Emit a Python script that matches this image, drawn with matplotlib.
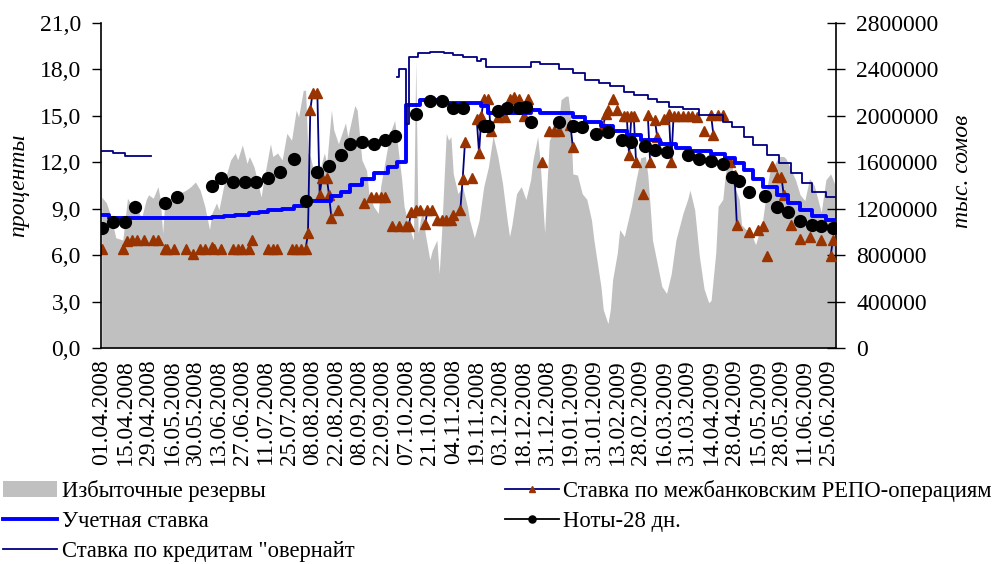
import numpy as np
import matplotlib.pyplot as plt

plt.rcParams['font.family'] = ['Liberation Serif', 'DejaVu Serif']

nan = np.nan
n_days = 314  # business days 01.04.2008 - 30.06.2009

tick_labels = ["01.04.2008", "15.04.2008", "29.04.2008", "16.05.2008", "30.05.2008",
               "13.06.2008", "27.06.2008", "11.07.2008", "25.07.2008", "08.08.2008",
               "22.08.2008", "08.09.2008", "22.09.2008", "07.10.2008", "21.10.2008",
               "04.11.2008", "19.11.2008", "03.12.2008", "18.12.2008", "31.12.2008",
               "19.01.2009", "31.01.2009", "13.02.2009", "28.02.2009", "16.03.2009",
               "31.03.2009", "14.04.2009", "28.04.2009", "15.05.2009", "28.05.2009",
               "11.06.2009", "25.06.2009"]

# excess reserves, thousand som (right axis)
reserve_day = [0, 2, 4, 6, 9, 11, 13, 14, 16, 17, 19, 20, 22, 24, 25, 26, 27, 30, 32, 34,
               36, 38, 40, 42, 44, 46, 47, 49, 50, 52, 53, 55, 57, 58, 60, 62, 63, 65, 67, 68,
               69, 72, 73, 75, 77, 79, 81, 83, 84, 86, 87, 88, 89, 91, 93, 95, 96, 98, 99, 101,
               104, 105, 108, 109, 111, 113, 114, 116, 118, 119, 121, 123, 125, 126, 128, 129, 131, 133, 134, 135,
               137, 138, 140, 141, 143, 144, 145, 147, 148, 149, 150, 152, 154, 156, 157, 159, 161, 163, 165, 167,
               169, 171, 173, 174, 175, 177, 179, 181, 183, 184, 186, 187, 189, 190, 191, 194, 195, 196, 198, 199,
               200, 201, 203, 205, 207, 209, 210, 213, 214, 216, 217, 218, 220, 221, 223, 224, 226, 228, 230, 232,
               233, 234, 235, 237, 239, 241, 243, 245, 248, 250, 251, 253, 255, 257, 259, 260, 262, 263, 265, 266,
               267, 269, 270, 272, 273, 275, 277, 279, 282, 284, 286, 287, 289, 291, 292, 296, 298, 300, 302, 304,
               307, 309, 311, 313]
reserve_val = [1300000, 1250000, 1130000, 950000, 930000, 1290000, 1220000, 1280000, 1160000, 1120000,
               1280000, 1320000, 1290000, 1390000, 1280000, 990000, 1280000, 1260000, 1290000, 1340000,
               1360000, 1390000, 1430000, 1360000, 1220000, 1020000, 1160000, 1250000, 1190000, 1390000,
               1480000, 1620000, 1680000, 1620000, 1750000, 1590000, 1650000, 1560000, 1390000, 1300000,
               1430000, 1760000, 1650000, 1680000, 1620000, 1850000, 1790000, 2050000, 1990000, 2220000,
               2220000, 1680000, 1650000, 1480000, 1530000, 1680000, 1590000, 2050000, 1880000, 1760000,
               1940000, 1820000, 2090000, 2050000, 1620000, 1530000, 1330000, 1220000, 1160000, 1390000,
               1620000, 1850000, 1960000, 1790000, 1450000, 1220000, 1050000, 930000, 2480000, 990000,
               1220000, 990000, 760000, 840000, 930000, 640000, 990000, 1850000, 1790000, 1820000,
               1500000, 1330000, 1390000, 1220000, 1100000, 950000, 1100000, 1390000, 1560000, 1830000,
               1650000, 1420000, 1100000, 960000, 1060000, 1330000, 1390000, 1280000, 1450000, 1620000,
               1820000, 1620000, 990000, 1420000, 1790000, 1910000, 1940000, 2140000, 2170000, 2170000,
               2010000, 1500000, 1490000, 1330000, 1280000, 1100000, 930000, 530000, 330000, 210000,
               330000, 590000, 820000, 1020000, 960000, 1050000, 1220000, 1450000, 1640000, 1650000,
               1490000, 1220000, 930000, 730000, 530000, 470000, 640000, 930000, 1160000, 1280000,
               1360000, 1190000, 790000, 510000, 390000, 410000, 820000, 1220000, 1280000, 1480000,
               1620000, 1560000, 1390000, 1280000, 1060000, 1020000, 990000, 890000, 1100000, 1400000,
               1620000, 1580000, 1650000, 1650000, 1630000, 1450000, 1320000, 1270000, 1460000, 1400000,
               1170000, 1450000, 1500000, 1400000]

# interbank REPO rate, % (blank days are gaps)
repo_day = [0, 9, 11, 13, 15, 18, 22, 24, 27, 28, 31, 36, 39, 42, 44, 47, 48, 51, 56, 58,
            60, 63, 64, 71, 73, 75, 81, 83, 85, 87, 88, 89, 90, 92, 93, 94, 96, 97, 98, 101,
            112, 115, 117, 119, 121, 124, 127, 130, 131, 132, 134, 136, 138, 139, 141, 143, 145, 147, 149, 150,
            153, 154, 155, 158, 160, 161, 162, 163, 165, 166, 169, 172, 174, 176, 178, 180, 182, 188, 191, 193,
            195, 200, 201, 214, 215, 216, 218, 220, 223, 224, 225, 226, 227, 228, 231, 233, 234, 236, 237, 240,
            242, 243, 244, 246, 248, 250, 252, 254, 257, 260, 261, 263, 265, 268, 270, 271, 276, 280, 282, 284,
            286, 288, 290, 291, 294, 298, 302, 307, 311, 312]
repo_val = [6.4, 6.4, 6.9, 7.0, 7.0, 7.0, 7.0, 7.0, 6.4, 6.4, 6.4, 6.4, 6.1, 6.4, 6.4, 6.55, 6.4, 6.4, 6.4, 6.4,
            6.4, 6.4, 7.0, 6.4, 6.4, 6.4, 6.4, 6.4, 6.4, 6.4, 7.4, 15.4, 16.5, 16.5, 9.9, 11.0, 11.0, 9.9, 8.4, 8.9,
            9.4, 9.75, 9.75, 9.75, 9.75, 7.9, 7.9, 7.9, 7.9, 8.8, 8.9, 8.9, 8.0, 8.9, 8.9, 8.3, 8.3, 8.3, 8.3, 8.6,
            8.9, 10.9, 13.3, 11.0, 14.8, 12.6, 15.0, 16.1, 16.1, 14.0, 14.95, 14.95, 16.1, 16.2, 16.1, 15.0, 16.1, 12.0, 14.05, 14.05,
            14.05, 14.4, 13.0, 14.35, 15.1, 15.4, 16.1, 15.4, 15.0, 15.0, 12.5, 15.0, 15.0, 12.0, 9.95, 15.05, 12.0, 14.75, 13.65, 14.8,
            15.1, 12.0, 15.0, 15.0, 15.0, 15.0, 15.0, 14.9, 14.05, 15.05, 13.75, 15.05, 15.05, 12.0, 11.2, 7.95, 7.5, 7.6, 7.9, 5.95,
            11.75, 11.05, 11.05, 9.9, 7.95, 7.05, 7.2, 6.95, 5.95, 7.0]

# discount rate, % (value holds until next change)
discount_day = [0, 3, 47, 52, 57, 63, 67, 71, 77, 82, 86, 98, 102, 106, 111, 116, 122, 126, 130, 136,
                146, 162, 165, 183, 187, 201, 206, 213, 218, 224, 230, 238, 245, 251, 260, 266, 270, 274, 278, 282,
                288, 293, 298, 303, 309, 313]
discount_val = [8.6, 8.38, 8.45, 8.5, 8.6, 8.7, 8.8, 8.9, 9.0, 9.2, 9.5, 9.8, 10.1, 10.5, 10.9, 11.3, 11.7, 12.0, 15.7, 16.0,
                15.8, 15.65, 15.2, 15.4, 15.2, 14.9, 14.6, 14.35, 14.05, 13.75, 13.45, 13.2, 12.95, 12.75, 12.55, 12.3, 11.95, 11.5, 10.95, 10.4,
                9.9, 9.35, 8.9, 8.5, 8.25, 8.25]

# 28-day notes yield, %
notes_day = [0, 5, 10, 14, 27, 32, 47, 51, 56, 61, 66, 71, 76, 82, 87, 92, 97, 102, 106, 111,
             116, 121, 125, 134, 140, 145, 150, 154, 163, 165, 169, 173, 178, 181, 183, 195, 201, 205, 211, 216,
             222, 226, 232, 236, 241, 250, 255, 260, 265, 269, 272, 276, 283, 288, 293, 298, 303, 307, 312]
notes_val = [7.73, 8.16, 8.12, 9.09, 9.35, 9.74, 10.47, 10.96, 10.7, 10.7, 10.7, 10.96, 11.35, 12.2, 9.5, 11.35, 11.76, 12.47, 13.18, 13.33,
             13.18, 13.44, 13.7, 15.1, 15.98, 15.98, 15.49, 15.49, 14.36, 14.36, 15.34, 15.49, 15.49, 15.59, 14.58, 14.58, 14.36, 14.26, 13.83, 13.94,
             13.44, 13.29, 13.07, 12.79, 12.68, 12.47, 12.21, 12.1, 11.87, 11.07, 10.81, 10.1, 9.82, 9.09, 8.77, 8.23, 7.95, 7.88, 7.73]

# overnight credit rate, % (nan = not available)
overnight_day = [0, 5, 10, 21, 126, 127, 130, 131, 135, 140, 146, 150, 154, 160, 162, 164, 183, 187, 195, 201,
                 206, 212, 217, 223, 227, 233, 237, 242, 248, 255, 265, 269, 274, 278, 284, 289, 294, 299, 303, 309,
                 313]
overnight_val = [12.7, 12.58, 12.4, nan, 17.5, 18.0, 14.5, 18.8, 19.05, 19.15, 19.08, 18.93, 18.78, 18.57, 18.65, 18.18, 18.5, 18.35, 18.05, 17.75,
                 17.32, 17.12, 16.9, 16.56, 16.35, 16.1, 15.92, 15.6, 15.42, 15.06, 14.62, 14.3, 13.65, 13.1, 12.5, 11.93, 11.28, 10.68, 10.1, 9.78,
                 9.78]


def on_days(days, vals):
    s = np.full(n_days, np.nan)
    s[days] = vals
    return s


day = np.arange(n_days)
repo = on_days(repo_day, repo_val)
notes = on_days(notes_day, notes_val)

fig = plt.figure(figsize=(10.03, 5.64), dpi=100)
ax = fig.add_axes([0.1007, 0.383, 0.7328, 0.5762])
ax2 = ax.twinx()
ax.set_zorder(ax2.get_zorder() + 1)
ax.patch.set_visible(False)

ax2.fill_between(reserve_day, reserve_val, 0, color='#c0c0c0', lw=0, label='Избыточные резервы')
ln_repo, = ax.plot(day, repo, color='#000080', lw=1.3, marker='^', ms=7.5,
                   mfc='#993300', mec='#993300', label='Ставка по межбанковским РЕПО-операциям')
ln_disc, = ax.step(discount_day, discount_val, where='post', color='#0000ff', lw=2.8,
                   label='Учетная ставка')
ln_notes, = ax.plot(day, notes, color='black', lw=1.3, marker='o', ms=8.5, label='Ноты-28 дн.')
ln_over, = ax.step(overnight_day, overnight_val, where='post', color='#000080', lw=1.3,
                   label='Ставка по кредитам "овернайт')

fs = 17
ax.set_xlim(-0.3, 313.3)
ax.set_ylim(0, 21)
ax.set_yticks(np.arange(0, 21.1, 3))
ax.set_yticklabels([f"{v:.1f}".replace('.', ',') for v in np.arange(0, 21.1, 3)], fontsize=fs)
ax.set_xticks(range(0, n_days, 10))
ax.set_xticklabels(tick_labels, rotation=90, fontsize=fs)
ax.tick_params(axis='x', length=0, pad=8)
ax.tick_params(axis='y', direction='out', length=6.5, width=1, pad=8)

ax2.set_ylim(0, 2800000)
ax2.set_yticks(range(0, 2800001, 400000))
ax2.set_yticklabels([str(v) for v in range(0, 2800001, 400000)], fontsize=fs)
ax2.tick_params(axis='y', direction='inout', length=13, width=1, pad=8)

for a in (ax, ax2):
    a.spines['top'].set_visible(False)
ax2.spines['left'].set_visible(False)
ax2.spines['bottom'].set_visible(False)
ax.spines['right'].set_visible(False)
for s in ('left', 'bottom'):
    ax.spines[s].set_linewidth(1.2)
ax2.spines['right'].set_linewidth(1.2)

ax.set_ylabel('проценты', fontsize=fs, style='italic')
ax.yaxis.set_label_coords(-0.098, 0.5)
ax2.set_ylabel('тыс. сомов', fontsize=fs, style='italic')
ax2.yaxis.set_label_coords(1.158, 0.545)

area = ax2.collections[0]
kw = dict(frameon=False, fontsize=16.3, handlelength=2.4, handletextpad=0.2,
          labelspacing=0.39, borderpad=0, borderaxespad=0, markerscale=0.6)
leg1 = fig.legend([area, ln_disc, ln_over],
                  [area.get_label(), ln_disc.get_label(), ln_over.get_label()],
                  loc='upper left', bbox_to_anchor=(0.003, 0.149), **kw)
leg2 = fig.legend([ln_repo, ln_notes], [ln_repo.get_label(), ln_notes.get_label()],
                  loc='upper left', bbox_to_anchor=(0.503, 0.149), **kw)

fig.savefig('out.png', dpi=100)
